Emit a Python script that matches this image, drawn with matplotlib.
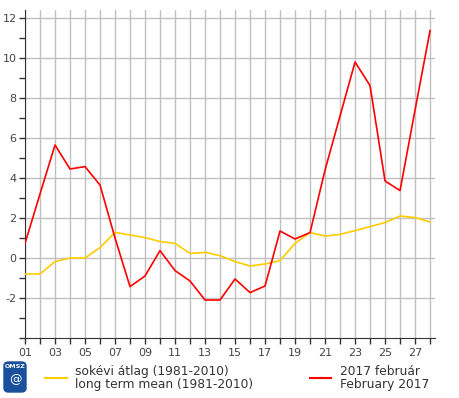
import matplotlib
matplotlib.use("Agg")
import matplotlib.pyplot as plt
from matplotlib.patches import FancyBboxPatch
from matplotlib.lines import Line2D

plt.rcParams["axes.unicode_minus"] = False

days = list(range(1, 29))
feb2017 = [0.73, 3.2, 5.65, 4.45, 4.57, 3.65, 1.0, -1.43, -0.9, 0.37,
           -0.63, -1.15, -2.1, -2.1, -1.05, -1.73, -1.4, 1.35, 0.95, 1.27,
           4.4, 7.1, 9.8, 8.62, 3.85, 3.37, 7.4, 11.37]
longterm = [-0.8, -0.8, -0.18, 0.0, 0.0, 0.52, 1.28, 1.15, 1.02, 0.82,
            0.73, 0.23, 0.28, 0.12, -0.18, -0.4, -0.3, -0.13, 0.73, 1.27,
            1.1, 1.18, 1.37, 1.57, 1.77, 2.1, 2.02, 1.8]
xticklabels = ["01", "03", "05", "07", "09", "11", "13", "15", "17", "19",
               "21", "23", "25", "27"]
yticks = [-2, 0, 2, 4, 6, 8, 10, 12]

fig = plt.figure(figsize=(4.6, 3.98), dpi=100)
ax = fig.add_axes([25/460, 60/398, 410/460, 328/398])

ax.plot(days, longterm, color="#ffcc00", lw=1.2, zorder=3)
ax.plot(days, feb2017, color="#ff0000", lw=1.2, zorder=4)

ax.set_xlim(1, 28.33)
ax.set_ylim(-4, 12.4)
ax.set_xticks(days, minor=True)
ax.set_xticks(days[::2])
ax.set_xticklabels(xticklabels)
ax.set_yticks(yticks)
ax.set_yticks(range(-4, 13), minor=True)
ax.grid(True, which="major", axis="y", color="#c0c0c0", lw=1)
ax.grid(True, which="both", axis="x", color="#c0c0c0", lw=1)
ax.set_axisbelow(True)
for s in ["top", "right"]:
    ax.spines[s].set_visible(False)
for s in ["left", "bottom"]:
    ax.spines[s].set_color("#333333")
ax.tick_params(which="both", colors="#333333", labelcolor="#444444",
               labelsize=8, length=4, width=1)
ax.tick_params(axis="y", pad=2)

# logo
logo = FancyBboxPatch((4/460, 6/398), 22/460, 30/398, boxstyle="round,pad=0,rounding_size=0.01",
                      transform=fig.transFigure, color="#1a4f9c")
fig.patches.append(logo)
fig.text(15/460, 32/398, "OMSZ", color="white", fontsize=4.5, ha="center",
         va="center", weight="bold")
fig.text(15/460, 18/398, "@", color="white", fontsize=9, ha="center", va="center")

# legend
fig.lines.append(Line2D([45/460, 67/460], [20/398, 20/398], color="#ffcc00", lw=1.5,
                        transform=fig.transFigure))
fig.text(75/460, 20/398, "sokévi átlag (1981-2010)\nlong term mean (1981-2010)",
         fontsize=8.8, color="#333333", va="center", linespacing=1.0)
fig.lines.append(Line2D([310/460, 331/460], [20/398, 20/398], color="#ff0000", lw=1.5,
                        transform=fig.transFigure))
fig.text(340/460, 20/398, "2017 február\nFebruary 2017",
         fontsize=8.8, color="#333333", va="center", linespacing=1.0)

fig.savefig("out.png", dpi=100)
